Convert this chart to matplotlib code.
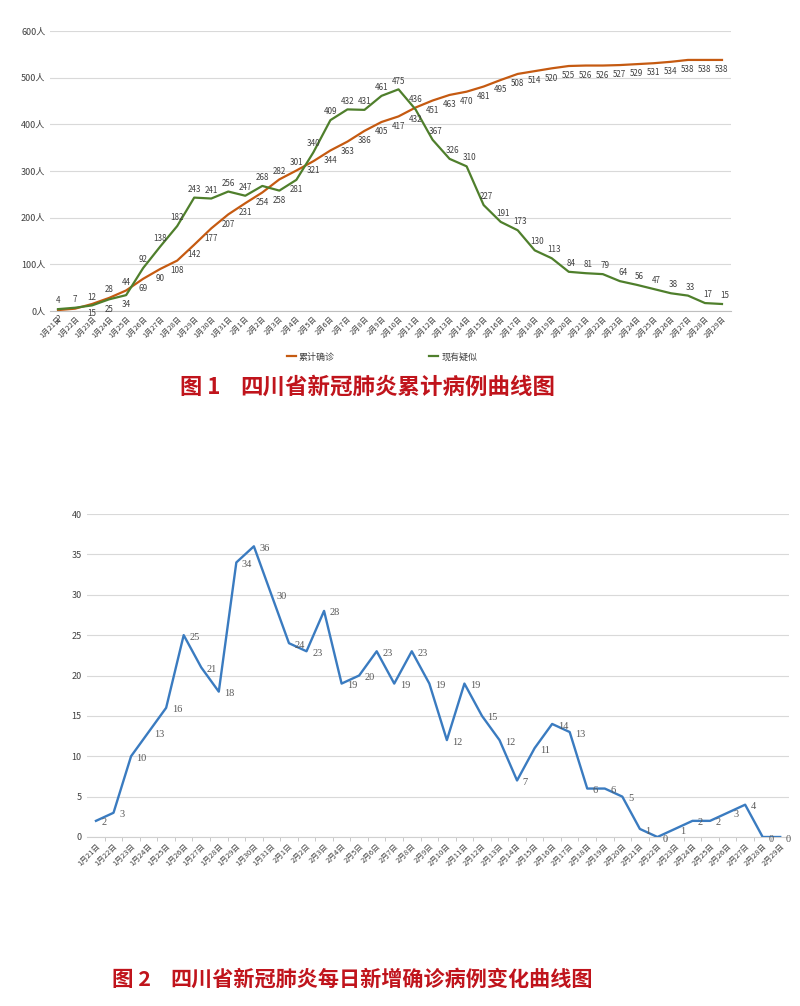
import matplotlib
matplotlib.use("Agg")
import matplotlib.pyplot as plt
from matplotlib.lines import Line2D

plt.rcParams['font.family'] = ['Noto Sans CJK SC', 'DejaVu Sans']

dates = [f"1月{d}日" for d in range(21, 32)] + [f"2月{d}日" for d in range(1, 30)]

confirmed_total = [2, 5, 15, 28, 44, 69, 90, 108, 142, 177,
                   207, 231, 254, 282, 301, 321, 344, 363, 386, 405,
                   417, 436, 451, 463, 470, 481, 495, 508, 514, 520,
                   525, 526, 526, 527, 529, 531, 534, 538, 538, 538]
suspected_now = [4, 7, 12, 25, 34, 92, 138, 182, 243, 241,
                 256, 247, 268, 258, 281, 340, 409, 432, 431, 461,
                 475, 432, 367, 326, 310, 227, 191, 173, 130, 113,
                 84, 81, 79, 64, 56, 47, 38, 33, 17, 15]
daily_new = [2, 3, 10, 13, 16, 25, 21, 18, 34, 36,
             30, 24, 23, 28, 19, 20, 23, 19, 23, 19,
             12, 19, 15, 12, 7, 11, 14, 13, 6, 6,
             5, 1, 0, 1, 2, 2, 3, 4, 0, 0]

top_yticks = [0, 100, 200, 300, 400, 500, 600]
bottom_yticks = [0, 5, 10, 15, 20, 25, 30, 35, 40]

ORANGE = "#C55A11"
GREEN = "#4F7F2C"
BLUE = "#3A7BC0"
RED = "#C0141C"
GRID = "#D9D9D9"
TXT = "#404040"

W, H = 800, 1006
fig = plt.figure(figsize=(W / 100, H / 100), dpi=100)


def px_axes(left, top, right, bottom):
    return fig.add_axes([left / W, 1 - bottom / H, (right - left) / W, (bottom - top) / H])


x = list(range(len(dates)))

# ---- chart 1 ----
ax1 = px_axes(49.5, 31, 730.5, 311)
ax1.plot(x, confirmed_total, color=ORANGE, lw=1.6, zorder=3)
ax1.plot(x, suspected_now, color=GREEN, lw=1.6, zorder=3)
ax1.set_xlim(-0.5, len(dates) - 0.5)
ax1.set_ylim(0, 600)
ax1.set_yticks(top_yticks)
ax1.set_yticklabels([f"{v}人" for v in top_yticks], fontsize=6.5, color="#404040")
ax1.set_xticks(x)
ax1.set_xticklabels(dates, rotation=45, ha="right", rotation_mode="anchor",
                    fontsize=5.3, color="#404040")
ax1.tick_params(axis="both", length=0, pad=3)
ax1.grid(axis="y", color=GRID, lw=0.8)
ax1.set_axisbelow(True)
for s in ["top", "right", "left"]:
    ax1.spines[s].set_visible(False)
ax1.spines["bottom"].set_color("#BFBFBF")

swap = {3, 4, 13, 14, 21}  # points where orange label sits above, green below
for i in x:
    up_o = i in swap
    if i != 1:  # the label for 1/22 is hidden under the axis labels in the source
        ax1.annotate(str(confirmed_total[i]), (i, confirmed_total[i]),
                     xytext=(0, 6 if up_o else -7), textcoords="offset points",
                     ha="center", va="center", fontsize=5.8, color=TXT, zorder=4)
    ax1.annotate(str(suspected_now[i]), (i, suspected_now[i]),
                 xytext=(2 if i > 21 else 0, -7 if up_o else 6), textcoords="offset points",
                 ha="center", va="center", fontsize=5.8, color=TXT, zorder=4)

handles = [Line2D([], [], color=ORANGE, lw=1.6), Line2D([], [], color=GREEN, lw=1.6)]
fig.legend(handles, ["累计确诊", "现有疑似"], loc="center", bbox_to_anchor=(382 / W, 1 - 357 / H),
           ncol=2, frameon=False, fontsize=6.5, handlelength=1.0, handletextpad=0.3,
           columnspacing=10.5, labelcolor=TXT)

fig.text(180 / W, 1 - 387 / H, "图 1", fontsize=16, fontweight="bold", color=RED,
         ha="left", va="center")
fig.text(240 / W, 1 - 387 / H, "四川省新冠肺炎累计病例曲线图", fontsize=16.2,
         fontweight="bold", color=RED, ha="left", va="center")

# ---- chart 2 ----
ax2 = px_axes(87.2, 514, 789, 837)
ax2.plot(x, daily_new, color=BLUE, lw=1.7, zorder=3)
ax2.set_xlim(-0.5, len(dates) - 0.5)
ax2.set_ylim(0, 40)
ax2.set_yticks(bottom_yticks)
ax2.set_yticklabels([str(v) for v in bottom_yticks], fontsize=6.5, color="#404040")
ax2.set_xticks(x)
ax2.set_xticklabels(dates, rotation=45, ha="right", rotation_mode="anchor",
                    fontsize=5.5, color="#404040")
ax2.set_xticks([i + 0.5 for i in x[:-1]], minor=True)
ax2.tick_params(axis="both", which="major", length=0, pad=4)
ax2.tick_params(axis="x", which="minor", length=3, color="#BFBFBF")
ax2.grid(axis="y", color=GRID, lw=0.8)
ax2.set_axisbelow(True)
for s in ["top", "right", "left"]:
    ax2.spines[s].set_visible(False)
ax2.spines["bottom"].set_color("#D0D0D0")

for i in x:
    ax2.annotate(str(daily_new[i]), (i, daily_new[i]), xytext=(4, -1.5),
                 textcoords="offset points", ha="left", va="center",
                 fontsize=7.5, color="#595959", family="Liberation Serif", zorder=4)

fig.text(112 / W, 1 - 979 / H, "图 2", fontsize=15.5, fontweight="bold", color=RED,
         ha="left", va="center")
fig.text(170 / W, 1 - 979 / H, "四川省新冠肺炎每日新增确诊病例变化曲线图", fontsize=15.2,
         fontweight="bold", color=RED, ha="left", va="center")

fig.savefig("out.png", dpi=100, facecolor="white")
